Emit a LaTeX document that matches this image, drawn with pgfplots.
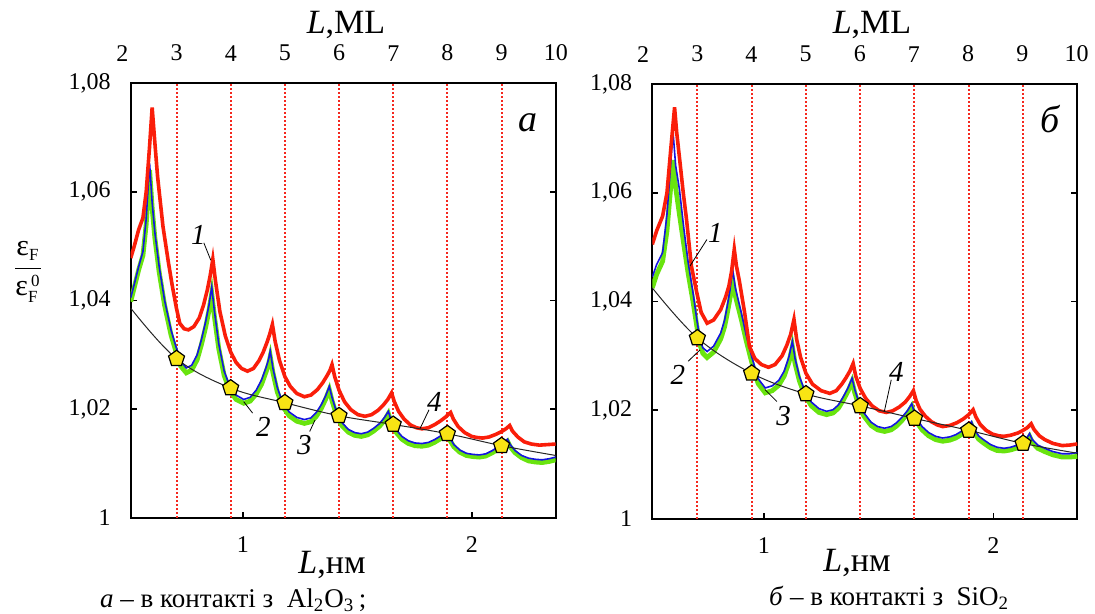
\documentclass[border=0pt]{standalone}
\usepackage{fontspec}
\setmainfont{Liberation Serif}
\usepackage{pgfplots}
\pgfplotsset{compat=1.18}

\definecolor{curvered}{RGB}{250,30,10}
\definecolor{curveblue}{RGB}{20,20,225}
\definecolor{curvegreen}{RGB}{105,228,15}
\definecolor{pentyellow}{RGB}{248,228,20}
\definecolor{gridred}{RGB}{245,40,30}

\pgfplotsset{
  panel/.style={
    scale only axis, width=212.5pt, height=217.5pt, anchor=south west,
    ymin=1, ymax=1.08, xmax=10,
    ytick={1,1.02,1.04,1.06,1.08},
    xtick={4.2265,8.453}, xticklabels={1,2},
    xtick pos=left, ytick pos=both, yticklabel pos=left,
    tick align=inside, major tick length=3pt,
    tick style={black, line width=0.8pt},
    axis line style={line width=1pt},
    ticklabel style={font=\fontsize{12}{14}\selectfont},
    /pgf/number format/assume math mode=true,
    yticklabel style={/pgf/number format/use comma, /pgf/number format/fixed,
      /pgf/number format/precision=2, xshift=-6.5pt},
    xticklabel style={yshift=-5.9pt},
    extra x ticks={3,4,5,6,7,8,9}, extra x tick labels={},
    extra x tick style={grid=major, tick style={draw=none}},
    major grid style={draw=gridred, line width=1pt, dash pattern=on 1pt off 1pt},
  },
  mlaxis/.style={
    scale only axis, width=216.7pt, height=217.5pt, anchor=south west,
    xmin=2, xmax=10, ymin=0, ymax=1,
    xtick={2,3,4,5,6,7,8,9,10}, ytick=\empty,
    xtick pos=right, xticklabel pos=right,
    axis line style={draw=none}, tick style={draw=none},
    ticklabel style={font=\fontsize{12}{14}\selectfont, yshift=7.4pt},
    /pgf/number format/assume math mode=true,
  },
  c1/.style={draw=curvered, line width=1.8pt},
  c2/.style={draw=curveblue, line width=0.8pt},
  c3/.style={draw=curvegreen, line width=2.4pt},
  c4/.style={draw=black!85, line width=0.5pt, smooth, tension=0.6},
  pent/.style={only marks, mark=pentagon*, mark size=4.2pt,
    mark options={fill=pentyellow, draw=black, line width=0.6pt}},
}

\begin{document}
\begin{tikzpicture}
\useasboundingbox (0,0) rectangle (547.5pt,307pt);

% ---------- panel a (Al2O3) ----------
\begin{axis}[panel, at={(65.35pt,48pt)}, xmin=2.154]
  % 3
  \addplot[c3] coordinates {
    (2.154,1.0398) (2.22,1.0424) (2.30,1.0456) (2.38,1.0483) (2.44,1.0540) (2.503,1.0640)
    (2.55,1.0570) (2.60,1.0515) (2.68,1.0452) (2.78,1.0391) (2.90,1.0336) (2.99,1.0306)
    (3.08,1.0279) (3.18,1.0267) (3.28,1.0272) (3.38,1.0291) (3.46,1.0319) (3.54,1.0352)
    (3.60,1.0382) (3.65,1.0413)
    (3.70,1.0370) (3.78,1.0311) (3.88,1.0262) (3.98,1.0235) (4.10,1.0218) (4.24,1.0211)
    (4.36,1.0215) (4.47,1.0228) (4.57,1.0246) (4.65,1.0268) (4.70,1.0283) (4.73,1.0297)
    (4.78,1.0267) (4.86,1.0232) (4.96,1.0205) (5.08,1.0188) (5.22,1.0178) (5.36,1.0174)
    (5.48,1.0177) (5.58,1.0187) (5.67,1.0201) (5.75,1.0218) (5.82,1.0236)
    (5.87,1.0216) (5.95,1.0190) (6.05,1.0170) (6.17,1.0158) (6.29,1.0152) (6.41,1.0150)
    (6.53,1.0153) (6.64,1.0160) (6.75,1.0169) (6.84,1.0180) (6.91,1.0192)
    (6.96,1.0176) (7.05,1.0158) (7.16,1.0145) (7.28,1.0137) (7.40,1.0133) (7.53,1.0132)
    (7.65,1.0134) (7.76,1.0139) (7.86,1.0145) (7.93,1.0150) (7.99,1.0155)
    (8.04,1.0144) (8.12,1.0131) (8.23,1.0121) (8.35,1.0115) (8.47,1.0113) (8.59,1.0112)
    (8.71,1.0114) (8.83,1.0120) (8.94,1.0127) (9.03,1.0134) (9.11,1.0141)
    (9.16,1.0131) (9.25,1.0120) (9.37,1.0111) (9.50,1.0105) (9.62,1.0103) (9.75,1.0102)
    (9.88,1.0104) (10.0,1.0107)
  };
  % 2
  \addplot[c2] coordinates {
    (2.154,1.0405) (2.22,1.0430) (2.30,1.0462) (2.38,1.0490) (2.44,1.0550) (2.503,1.0652)
    (2.55,1.0580) (2.60,1.0525) (2.68,1.0462) (2.78,1.0400) (2.90,1.0345) (2.99,1.0315)
    (3.08,1.0288) (3.18,1.0276) (3.28,1.0281) (3.38,1.0300) (3.46,1.0328) (3.54,1.0362)
    (3.60,1.0392) (3.65,1.0425)
    (3.70,1.0380) (3.78,1.0320) (3.88,1.0270) (3.98,1.0243) (4.10,1.0226) (4.24,1.0218)
    (4.36,1.0222) (4.47,1.0235) (4.57,1.0254) (4.65,1.0276) (4.70,1.0292) (4.73,1.0307)
    (4.78,1.0275) (4.86,1.0240) (4.96,1.0212) (5.08,1.0195) (5.22,1.0185) (5.36,1.0181)
    (5.48,1.0184) (5.58,1.0194) (5.67,1.0208) (5.75,1.0224) (5.82,1.0242)
    (5.87,1.0222) (5.95,1.0196) (6.05,1.0176) (6.17,1.0163) (6.29,1.0157) (6.41,1.0155)
    (6.53,1.0158) (6.64,1.0165) (6.75,1.0174) (6.84,1.0185) (6.91,1.0196)
    (6.96,1.0180) (7.05,1.0163) (7.16,1.0150) (7.28,1.0142) (7.40,1.0138) (7.53,1.0137)
    (7.65,1.0139) (7.76,1.0144) (7.86,1.0150) (7.93,1.0155) (7.99,1.0159)
    (8.04,1.0148) (8.12,1.0135) (8.23,1.0125) (8.35,1.0119) (8.47,1.0117) (8.59,1.0116)
    (8.71,1.0118) (8.83,1.0124) (8.94,1.0131) (9.03,1.0138) (9.11,1.0145)
    (9.16,1.0135) (9.25,1.0124) (9.37,1.0115) (9.50,1.0110) (9.62,1.0108) (9.75,1.0107)
    (9.88,1.0109) (10.0,1.0112)
  };
  % 1
  \addplot[c1] coordinates {
    (2.154,1.0478) (2.22,1.0500) (2.30,1.0530) (2.38,1.0552) (2.44,1.0600) (2.50,1.0680)
    (2.55,1.0755) (2.60,1.0690) (2.65,1.0628) (2.75,1.0536) (2.85,1.0470) (2.92,1.0428)
    (3.00,1.0385) (3.06,1.0358) (3.14,1.0348) (3.22,1.0346) (3.32,1.0352) (3.42,1.0368)
    (3.50,1.0392) (3.57,1.0420) (3.62,1.0445) (3.67,1.0476)
    (3.72,1.0435) (3.80,1.0380) (3.90,1.0335) (4.00,1.0305) (4.10,1.0286) (4.20,1.0275)
    (4.31,1.0270) (4.42,1.0275) (4.52,1.0289) (4.60,1.0305) (4.67,1.0323) (4.72,1.0338)
    (4.77,1.0356)
    (4.82,1.0325) (4.90,1.0290) (5.00,1.0260) (5.10,1.0242) (5.22,1.0229) (5.36,1.0223)
    (5.48,1.0226) (5.60,1.0236) (5.70,1.0249) (5.78,1.0262) (5.83,1.0271) (5.87,1.0282)
    (5.92,1.0260) (6.00,1.0235) (6.10,1.0214) (6.22,1.0199) (6.35,1.0190) (6.48,1.0187)
    (6.60,1.0190) (6.72,1.0198) (6.82,1.0208) (6.90,1.0218) (6.97,1.0230)
    (7.02,1.0214) (7.10,1.0196) (7.20,1.0182) (7.32,1.0171) (7.43,1.0166) (7.53,1.0164)
    (7.65,1.0166) (7.77,1.0172) (7.88,1.0179) (7.97,1.0186) (8.06,1.0194)
    (8.11,1.0182) (8.20,1.0168) (8.32,1.0157) (8.45,1.0150) (8.55,1.0148) (8.65,1.0147)
    (8.77,1.0149) (8.90,1.0154) (9.00,1.0159) (9.08,1.0164) (9.15,1.0170)
    (9.20,1.0160) (9.30,1.0149) (9.42,1.0140) (9.55,1.0136) (9.70,1.0134) (9.85,1.0135)
    (10.0,1.0136)
  };
  % 4
  \addplot[c4] coordinates {
    (2.154,1.0386) (3,1.0293) (4,1.0239) (5,1.0212) (6,1.0188) (7,1.0172) (8,1.0155)
    (9,1.0133) (10,1.0115)
  };
  \addplot[pent] coordinates {
    (3,1.0293) (4,1.0239) (5,1.0212) (6,1.0188) (7,1.0172) (8,1.0155) (9,1.0133)
  };
  \node[font=\fontsize{19}{20}\selectfont\itshape] at (axis cs:9.49,1.0726) {а};
  \begin{scope}[font=\fontsize{14.5}{16}\selectfont\itshape]
    \node at (axis cs:3.404,1.0520) {1};
    \draw[line width=0.4pt] (axis cs:3.504,1.0506) -- (axis cs:3.633,1.0474);
    \node at (axis cs:4.602,1.0168) {2};
    \draw[line width=0.4pt] (axis cs:4.404,1.0193) -- (axis cs:4.240,1.0214);
    \node at (axis cs:5.359,1.0134) {3};
    \draw[line width=0.4pt] (axis cs:5.458,1.0159) -- (axis cs:5.556,1.0180);
    \node at (axis cs:7.760,1.0214) {4};
    \draw[line width=0.4pt] (axis cs:7.661,1.0199) -- (axis cs:7.498,1.0165);
  \end{scope}
\end{axis}
\begin{axis}[mlaxis, at={(61.2pt,48pt)}]
\end{axis}

% ---------- panel b (SiO2) ----------
\begin{axis}[panel, at={(326.15pt,47.5pt)}, xmin=2.17]
  % 3
  \addplot[c3] coordinates {
    (2.17,1.0425) (2.25,1.0450) (2.36,1.0474) (2.44,1.0530) (2.50,1.0600) (2.55,1.0660)
    (2.60,1.0610) (2.67,1.0560) (2.75,1.0505) (2.83,1.0452) (2.92,1.0400) (3.00,1.0348)
    (3.05,1.0320) (3.10,1.0305) (3.18,1.0297) (3.30,1.0307) (3.43,1.0331) (3.50,1.0353)
    (3.55,1.0378) (3.60,1.0405) (3.65,1.0440)
    (3.70,1.0410) (3.81,1.0367) (3.90,1.0328) (4.00,1.0289) (4.12,1.0249) (4.25,1.0232)
    (4.38,1.0236) (4.50,1.0246) (4.60,1.0263) (4.69,1.0289) (4.75,1.0317)
    (4.80,1.0286) (4.88,1.0254) (4.97,1.0230) (5.10,1.0208) (5.24,1.0196) (5.38,1.0192)
    (5.50,1.0195) (5.60,1.0204) (5.69,1.0219) (5.78,1.0236) (5.85,1.0253)
    (5.90,1.0232) (5.98,1.0207) (6.07,1.0189) (6.20,1.0172) (6.32,1.0164) (6.45,1.0161)
    (6.57,1.0164) (6.67,1.0171) (6.76,1.0180) (6.87,1.0194) (6.95,1.0207)
    (7.00,1.0190) (7.07,1.0174) (7.14,1.0164) (7.26,1.0153) (7.39,1.0146) (7.52,1.0143)
    (7.65,1.0145) (7.76,1.0149) (7.86,1.0155) (7.96,1.0163) (8.05,1.0173)
    (8.10,1.0160) (8.18,1.0147) (8.27,1.0140) (8.40,1.0131) (8.52,1.0126) (8.65,1.0125)
    (8.77,1.0127) (8.90,1.0131) (9.00,1.0137) (9.07,1.0144) (9.12,1.0152)
    (9.17,1.0141) (9.27,1.0130) (9.40,1.0124) (9.55,1.0118) (9.72,1.0114) (9.86,1.0114)
    (10.0,1.0115)
  };
  % 2
  \addplot[c2] coordinates {
    (2.17,1.0445) (2.25,1.0468) (2.36,1.0490) (2.44,1.0560) (2.50,1.0640) (2.55,1.0714)
    (2.60,1.0650) (2.67,1.0606) (2.75,1.0535) (2.83,1.0472) (2.92,1.0416) (3.00,1.0360)
    (3.05,1.0330) (3.10,1.0315) (3.18,1.0308) (3.30,1.0318) (3.43,1.0342) (3.50,1.0365)
    (3.55,1.0391) (3.60,1.0420) (3.65,1.0459)
    (3.70,1.0425) (3.81,1.0379) (3.90,1.0338) (4.00,1.0299) (4.12,1.0258) (4.25,1.0241)
    (4.38,1.0245) (4.50,1.0255) (4.60,1.0272) (4.69,1.0299) (4.75,1.0327)
    (4.80,1.0295) (4.88,1.0262) (4.97,1.0238) (5.10,1.0215) (5.24,1.0203) (5.38,1.0198)
    (5.50,1.0201) (5.60,1.0210) (5.69,1.0225) (5.78,1.0242) (5.85,1.0259)
    (5.90,1.0238) (5.98,1.0213) (6.07,1.0195) (6.20,1.0178) (6.32,1.0170) (6.45,1.0167)
    (6.57,1.0170) (6.67,1.0177) (6.76,1.0186) (6.87,1.0199) (6.95,1.0212)
    (7.00,1.0195) (7.07,1.0180) (7.14,1.0170) (7.26,1.0159) (7.39,1.0152) (7.52,1.0149)
    (7.65,1.0151) (7.76,1.0155) (7.86,1.0161) (7.96,1.0169) (8.05,1.0179)
    (8.10,1.0166) (8.18,1.0153) (8.27,1.0146) (8.40,1.0137) (8.52,1.0132) (8.65,1.0130)
    (8.77,1.0132) (8.90,1.0136) (9.00,1.0142) (9.07,1.0149) (9.12,1.0157)
    (9.17,1.0146) (9.27,1.0136) (9.40,1.0130) (9.55,1.0124) (9.72,1.0120) (9.86,1.0120)
    (10.0,1.0122)
  };
  % 1
  \addplot[c1] coordinates {
    (2.17,1.0505) (2.25,1.0530) (2.36,1.0557) (2.44,1.0600) (2.51,1.0680) (2.58,1.0757)
    (2.62,1.0710) (2.67,1.0665) (2.74,1.0600) (2.80,1.0551) (2.89,1.0465) (2.99,1.0416)
    (3.07,1.0380) (3.18,1.0360) (3.30,1.0366) (3.43,1.0385) (3.52,1.0408) (3.58,1.0428)
    (3.63,1.0455) (3.68,1.0496)
    (3.72,1.0465) (3.77,1.0440) (3.87,1.0380) (3.96,1.0317) (4.06,1.0295) (4.18,1.0284)
    (4.31,1.0279) (4.43,1.0284) (4.56,1.0300) (4.65,1.0320) (4.72,1.0340) (4.78,1.0367)
    (4.83,1.0330) (4.90,1.0298) (5.00,1.0268) (5.12,1.0248) (5.28,1.0236) (5.44,1.0231)
    (5.56,1.0236) (5.66,1.0248) (5.74,1.0260) (5.81,1.0272) (5.87,1.0286)
    (5.92,1.0262) (6.00,1.0240) (6.10,1.0222) (6.22,1.0208) (6.35,1.0199) (6.48,1.0196)
    (6.60,1.0199) (6.72,1.0206) (6.83,1.0215) (6.91,1.0225) (6.98,1.0236)
    (7.03,1.0218) (7.10,1.0202) (7.20,1.0189) (7.31,1.0179) (7.42,1.0173) (7.52,1.0170)
    (7.65,1.0172) (7.78,1.0177) (7.90,1.0184) (8.00,1.0192) (8.08,1.0201)
    (8.13,1.0188) (8.21,1.0174) (8.32,1.0163) (8.44,1.0156) (8.55,1.0153) (8.65,1.0152)
    (8.77,1.0154) (8.90,1.0158) (9.00,1.0163) (9.08,1.0168) (9.15,1.0175)
    (9.20,1.0165) (9.30,1.0153) (9.40,1.0146) (9.55,1.0139) (9.72,1.0135) (9.86,1.0136)
    (10.0,1.0138)
  };
  % 4
  \addplot[c4] coordinates {
    (2.17,1.0425) (3,1.0333) (4,1.0268) (5,1.0230) (6,1.0208) (7,1.0185) (8,1.0163)
    (9,1.0139) (10,1.0121)
  };
  \addplot[pent] coordinates {
    (3,1.0333) (4,1.0268) (5,1.0230) (6,1.0208) (7,1.0185) (8,1.0163) (9,1.0139)
  };
  \node[font=\fontsize{19}{20}\selectfont\itshape] at (axis cs:9.496,1.0735) {б};
  \begin{scope}[font=\fontsize{14.5}{16}\selectfont\itshape]
    \node at (axis cs:3.334,1.0527) {1};
    \draw[line width=0.4pt] (axis cs:3.176,1.0514) -- (axis cs:2.862,1.0465);
    \node at (axis cs:2.642,1.0265) {2};
    \draw[line width=0.4pt] (axis cs:2.829,1.0290) -- (axis cs:3.050,1.0311);
    \node at (axis cs:4.591,1.0189) {3};
    \draw[line width=0.4pt] (axis cs:4.465,1.0216) -- (axis cs:4.246,1.0238);
    \node at (axis cs:6.666,1.0271) {4};
    \draw[line width=0.4pt] (axis cs:6.572,1.0256) -- (axis cs:6.445,1.0198);
  \end{scope}
\end{axis}
\begin{axis}[mlaxis, at={(321.55pt,47.5pt)}]
\end{axis}

% ---------- labels ----------
\begin{scope}[font=\fontsize{17}{19}\selectfont]
  \node at (173pt,294.5pt) {\textit{L},ML};
  \node at (436pt,294.5pt) {\textit{L},ML};
  \node at (166pt,24.5pt) {\textit{L},нм};
  \node at (428.5pt,25.5pt) {\textit{L},нм};
\end{scope}
\node[font=\fontsize{15}{17}\selectfont] at (14pt,171pt)
  {$\displaystyle\frac{\mbox{ε}_{\mbox{\fontsize{8.5}{9}\selectfont F}}}
   {\mbox{ε}_{\mbox{\fontsize{8.5}{9}\selectfont F}}^{\hspace{1.5pt}\mbox{\fontsize{8.5}{9}\selectfont 0}}}$};
\begin{scope}[font=\fontsize{13.5}{15}\selectfont]
  \node[anchor=west] at (46.5pt,7pt) {\textit{а} – в контакті з\ \ Al\textsubscript{2}O\textsubscript{3}\,;};
  \node[anchor=west] at (381pt,8pt) {\textit{б} – в контакті з\ \ SiO\textsubscript{2}};
\end{scope}
\end{tikzpicture}
\end{document}
